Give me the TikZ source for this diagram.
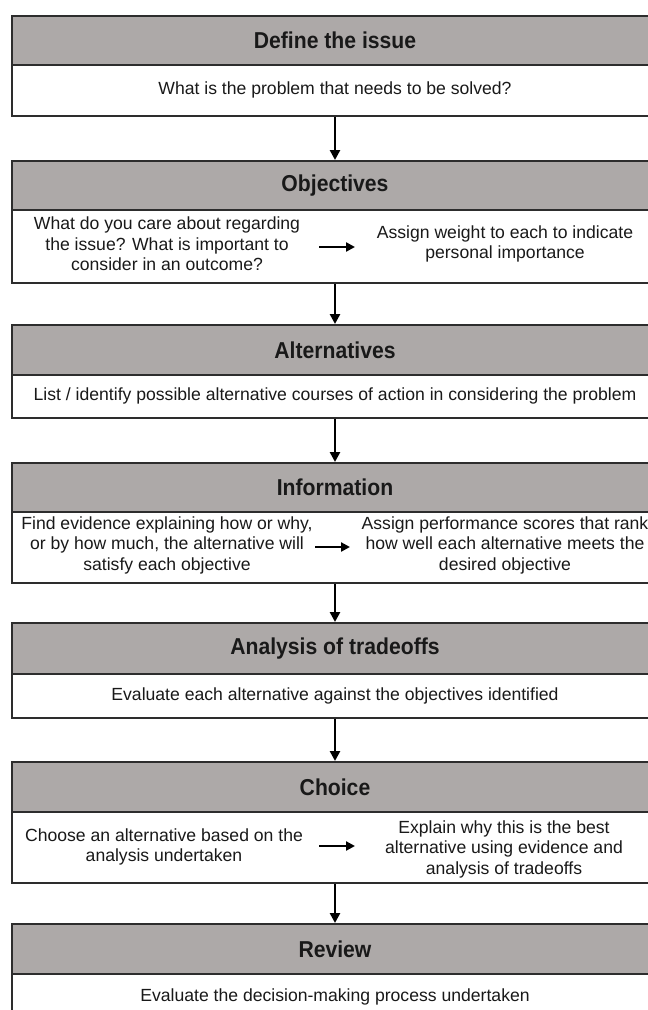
\documentclass[tikz,border=0pt]{standalone}
\usepackage{fontspec}
\setmainfont{Liberation Sans}
\newfontfamily\hdrfont[FakeStretch=0.92]{Liberation Sans}
\usetikzlibrary{arrows.meta}
\definecolor{hdrgray}{RGB}{173,169,168}
\definecolor{edgegray}{RGB}{45,45,45}
\definecolor{inkc}{RGB}{25,25,25}
\begin{document}
\begin{tikzpicture}[x=1pt,y=-1pt,
  boxbase/.style={draw=edgegray, line width=1.6pt, minimum width=646pt, inner sep=0pt, anchor=north, text=inkc},
  hdr/.style={boxbase, fill=hdrgray, minimum height=#1, font=\hdrfont\fontsize{23}{27}\selectfont\bfseries},
  bdy/.style={boxbase, fill=white, minimum height=#1, font=\fontsize{17.6}{20.5}\selectfont},
  txt/.style={align=center, font=\fontsize{17.6}{20.5}\selectfont, inner sep=0pt, text=inkc},
  flow/.style={line width=2.6pt, draw=black, -{Triangle[length=10pt,width=10pt]}},
  sideflow/.style={line width=2.6pt, draw=black, -{Triangle[length=9pt,width=9pt]}},
]
\useasboundingbox (0,0) rectangle (648,1010);
\clip (0,0) rectangle (648,1010);
\fill[white] (0,0) rectangle (648,1010);

% Define the issue
\node[hdr=49pt] (h1) at (335,15) {Define the issue};
\node[bdy=51pt] (b1) at (335,64) {What is the problem that needs to be solved?};

% Objectives
\node[hdr=49pt] (h2) at (335,160) {Objectives};
\node[bdy=73pt] (b2) at (335,209) {};
\node[txt] (l2) at (167,244) {What do you care about regarding\\the issue? What is important to\\consider in an outcome?};
\node[txt] (r2) at (505,244) {Assign weight to each to indicate\\personal importance};
\coordinate (a2s) at (319,247);
\coordinate (a2e) at (355,247);

% Alternatives
\node[hdr=50pt] (h3) at (335,324) {Alternatives};
\node[bdy=43pt] (b3) at (335,374) {List / identify possible alternative courses of action in considering the problem};

% Information
\node[hdr=49pt] (h4) at (335,462) {Information};
\node[bdy=71pt] (b4) at (335,511) {};
\node[txt] (l4) at (167,545) {Find evidence explaining how or why,\\or by how much, the alternative will\\satisfy each objective};
\node[txt] (r4) at (505,545) {Assign performance scores that rank\\how well each alternative meets the\\desired objective};
\coordinate (a4s) at (315,547);
\coordinate (a4e) at (350,547);

% Analysis of tradeoffs
\node[hdr=51pt] (h5) at (335,622) {Analysis of tradeoffs};
\node[bdy=44pt] (b5) at (335,673) {Evaluate each alternative against the objectives identified};

% Choice
\node[hdr=50pt] (h6) at (335,761) {Choice};
\node[bdy=71pt] (b6) at (335,811) {};
\node[txt] (l6) at (164,847) {Choose an alternative based on the\\analysis undertaken};
\node[txt] (r6) at (504,849) {Explain why this is the best\\alternative using evidence and\\analysis of tradeoffs};
\coordinate (a6s) at (319,846);
\coordinate (a6e) at (355,846);

% Review
\node[hdr=50pt] (h7) at (335,923) {Review};
\node[bdy=46pt] (b7) at (335,973) {Evaluate the decision-making process undertaken};

% vertical connectors
\draw[flow] (b1.south) -- (h2.north);
\draw[flow] (b2.south) -- (h3.north);
\draw[flow] (b3.south) -- (h4.north);
\draw[flow] (b4.south) -- (h5.north);
\draw[flow] (b5.south) -- (h6.north);
\draw[flow] (b6.south) -- (h7.north);

% horizontal connectors
\draw[sideflow] (a2s) -- (a2e);
\draw[sideflow] (a4s) -- (a4e);
\draw[sideflow] (a6s) -- (a6e);
\end{tikzpicture}
\end{document}
